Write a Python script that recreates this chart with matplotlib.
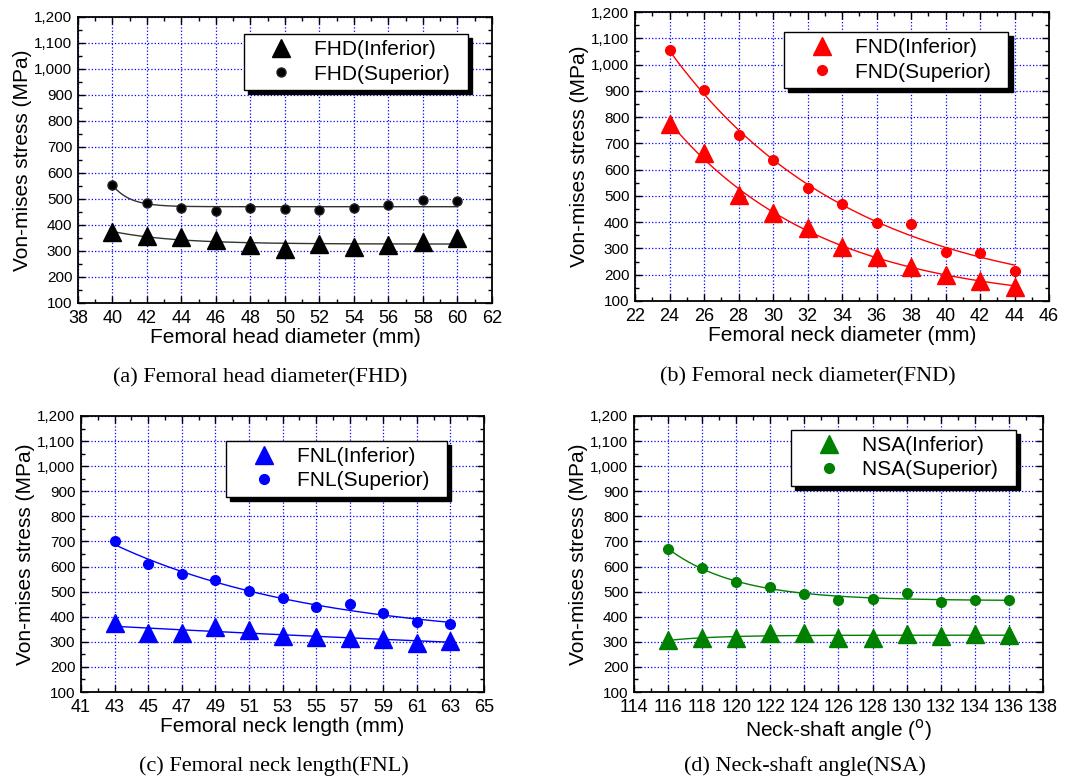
"""
Von-mises stress vs femoral geometry parameters (four panels).
"""
import matplotlib
matplotlib.use('Agg')
import matplotlib.pyplot as plt
from matplotlib.ticker import FuncFormatter, MultipleLocator
import numpy as np

plt.rcParams['font.family'] = ['Liberation Sans', 'DejaVu Sans']

# (a) femoral head diameter
fhd_x = [40, 42, 44, 46, 48, 50, 52, 54, 56, 58, 60]
fhd_inf = [372, 356, 354, 341, 322, 309, 328, 315, 324, 335, 350]
fhd_sup = [553, 485, 467, 454, 464, 460, 456, 467, 476, 497, 491]

# (b) femoral neck diameter
fnd_x = [24, 26, 28, 30, 32, 34, 36, 38, 40, 42, 44]
fnd_inf = [773, 665, 503, 436, 379, 306, 267, 230, 200, 177, 154]
fnd_sup = [1054, 902, 731, 636, 531, 471, 398, 393, 287, 281, 214]

# (c) femoral neck length
fnl_x = [43, 45, 47, 49, 51, 53, 55, 57, 59, 61, 63]
fnl_inf = [374, 335, 335, 358, 348, 324, 319, 315, 311, 295, 304]
fnl_sup = [702, 612, 569, 547, 502, 474, 439, 450, 413, 377, 372]

# (d) neck-shaft angle
nsa_x = [116, 118, 120, 122, 124, 126, 128, 130, 132, 134, 136]
nsa_inf = [306, 316, 314, 334, 334, 315, 316, 331, 324, 331, 328]
nsa_sup = [669, 594, 540, 519, 491, 468, 469, 494, 460, 467, 465]


def exp_fit(x, y):
    """Least-squares fit of y = y0 + A*exp(-(x-x0)/t), grid search over t."""
    x = np.asarray(x, float)
    y = np.asarray(y, float)
    best = None
    for t in np.linspace(0.3, 80, 800):
        e = np.exp(-(x - x[0]) / t)
        M = np.column_stack([np.ones_like(x), e])
        coef = np.linalg.lstsq(M, y, rcond=None)[0]
        err = np.sum((M @ coef - y) ** 2)
        if best is None or err < best[0]:
            best = (err, t, coef)
    _, t, coef = best
    xs = np.linspace(x[0], x[-1], 200)
    return xs, coef[0] + coef[1] * np.exp(-(xs - x[0]) / t)


def draw_panel(ax, x, inf, sup, color, line_color, xlim, xlabel, tag, leg_pos):
    for yv in (inf, sup):
        xs, ys = exp_fit(x, yv)
        ax.plot(xs, ys, color=line_color, lw=1.0, zorder=2)
    ax.plot(x, inf, '^', color=color, ms=13, ls='none', zorder=3,
            label=f'{tag}(Inferior)  ')
    ax.plot(x, sup, 'o', color=color, mec='#222222' if color == 'black' else color,
            ms=6.5 if color == 'black' else 7, ls='none', zorder=3,
            label=f'{tag}(Superior)  ')

    ax.set_xlim(*xlim)
    ax.set_ylim(100, 1200)
    ax.set_xticks(np.arange(xlim[0], xlim[1] + 1, 2))
    ax.set_xticks(np.arange(xlim[0], xlim[1] + 1, 1), minor=True)
    ax.yaxis.set_major_locator(MultipleLocator(100))
    ax.yaxis.set_minor_locator(MultipleLocator(50))
    ax.yaxis.set_major_formatter(FuncFormatter(lambda v, p: f'{v:,.0f}'))
    ax.tick_params(which='both', direction='in', top=True, right=True, width=1.0)
    ax.tick_params(axis='x', labelsize=13, pad=5)
    ax.tick_params(axis='y', labelsize=11, pad=4)
    ax.tick_params(which='major', length=5)
    ax.tick_params(which='minor', length=3)
    for sp in ax.spines.values():
        sp.set_linewidth(1.3)
    ax.grid(True, which='major', color='blue', ls=':', lw=0.9)
    ax.set_axisbelow(True)

    ax.set_xlabel(xlabel, fontsize=15, labelpad=1)
    ax.set_ylabel('Von-mises stress (MPa)', fontsize=15, labelpad=2)

    leg = ax.legend(loc='upper left', bbox_to_anchor=leg_pos, fontsize=15,
                    frameon=True, fancybox=False, edgecolor='black',
                    framealpha=1, borderpad=0.3, handlelength=3.0,
                    handletextpad=0.1, labelspacing=0.25, borderaxespad=0,
                    shadow={'color': 'black', 'alpha': 1, 'ox': 3, 'oy': -3})
    leg.get_frame().set_linewidth(1.0)


fig = plt.figure(figsize=(10.79, 7.80), dpi=100)
W, H = 1079, 780
boxes = [(78, 17, 492, 303), (635, 12, 1049, 301),
         (81, 416, 484, 692), (634, 416, 1043, 692)]
axes = [fig.add_axes([l / W, 1 - b / H, (r - l) / W, (b - t) / H])
        for l, t, r, b in boxes]

draw_panel(axes[0], fhd_x, fhd_inf, fhd_sup, 'black', '#333333', (38, 62),
           'Femoral head diameter (mm)', 'FHD', (0.40, 0.94))
draw_panel(axes[1], fnd_x, fnd_inf, fnd_sup, '#ff0000', '#ff0000', (22, 46),
           'Femoral neck diameter (mm)', 'FND', (0.36, 0.93))
draw_panel(axes[2], fnl_x, fnl_inf, fnl_sup, '#0000ff', '#0000ff', (41, 65),
           'Femoral neck length (mm)', 'FNL', (0.36, 0.91))
draw_panel(axes[3], nsa_x, nsa_inf, nsa_sup, '#008000', '#008000', (114, 138),
           'Neck-shaft angle ($^{\\mathrm{o}}$)', 'NSA', (0.384, 0.95))

captions = ['(a) Femoral head diameter(FHD)', '(b) Femoral neck diameter(FND)',
            '(c) Femoral neck length(FNL)', '(d) Neck-shaft angle(NSA)']
cap_pos = [(260, 378), (808, 377), (274, 766), (805, 766)]
for cap, (cx, cy) in zip(captions, cap_pos):
    fig.text(cx / W, 1 - cy / H, cap, ha='center', va='center', fontsize=16,
             family=['Liberation Serif', 'DejaVu Serif'])

fig.savefig('out.png', dpi=100)
plt.close(fig)
